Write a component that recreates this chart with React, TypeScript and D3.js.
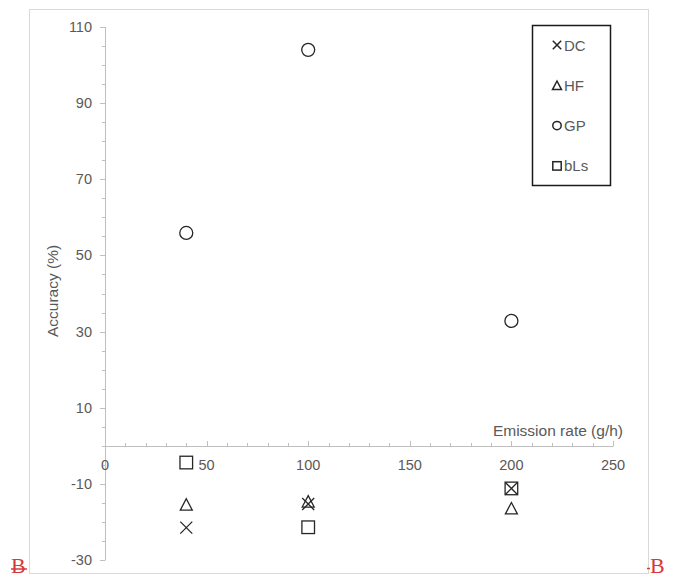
import React from 'react';
import { scaleLinear, range } from 'd3';

// emission rates (g/h) and accuracy (%) per method
const emission = [40, 100, 200];
const series = ['DC', 'HF', 'GP', 'bLs'];
const dcValues = [-21.5, -15.3, -11.2];
const hfValues = [-15.4, -14.6, -16.4];
const gpValues = [55.9, 104, 32.8];
const blsValues = [-4.4, -21.4, -11.2];
const yTicks = [110, 90, 70, 50, 30, 10, -10, -30];
const xTicks = [0, 50, 100, 150, 200, 250];

const W = 676;
const H = 575;
const axisColor = '#bfbfbf';
const textColor = '#595959';
const markColor = '#262626';
const font = '"Liberation Sans", Arial, sans-serif';

function marker(kind: string, cx: number, cy: number, s: number) {
  // s = half size
  if (kind === 'DC') {
    return <path d={`M${cx - s},${cy - s}L${cx + s},${cy + s}M${cx - s},${cy + s}L${cx + s},${cy - s}`} />;
  }
  if (kind === 'HF') {
    const h = s * 1.9;
    return <path d={`M${cx},${cy - h / 2}L${cx + s},${cy + h / 2}L${cx - s},${cy + h / 2}Z`} />;
  }
  if (kind === 'GP') {
    return <circle cx={cx} cy={cy} r={s} />;
  }
  return <rect x={cx - s} y={cy - s} width={s * 2} height={s * 2} />;
}

export default function App() {
  const x = scaleLinear().domain([0, 250]).range([105, 613]);
  const y = scaleLinear().domain([-30, 110]).range([560, 27]);
  const y0 = y(0);

  const data: Record<string, number[]> = {
    DC: dcValues,
    HF: hfValues,
    GP: gpValues,
    bLs: blsValues,
  };

  const xMinor = range(0, 251, 10);
  const yMinor = range(-30, 111, 5);

  return (
    <svg width={W} height={H} style={{ position: 'absolute', left: 0, top: 0, display: 'block' }}>
      <rect x={0} y={0} width={W} height={H} fill="#fff" />
      <rect x={29.5} y={9.5} width={619} height={564} fill="none" stroke="#d9d9d9" />

      {/* y axis */}
      <g stroke={axisColor} strokeWidth={1}>
        <line x1={105.5} x2={105.5} y1={y(110)} y2={y(-30)} />
        {yMinor.map((v) => (
          <line key={v} x1={yTicks.includes(v) ? 100 : 102} x2={105.5} y1={Math.round(y(v)) + 0.5} y2={Math.round(y(v)) + 0.5} />
        ))}
      </g>
      <g fill={textColor} fontFamily={font} fontSize={14.5} textAnchor="end">
        {yTicks.map((v) => (
          <text key={v} x={92} y={y(v) + 5}>{v}</text>
        ))}
      </g>

      {/* x axis */}
      <g stroke={axisColor} strokeWidth={1}>
        <line x1={x(0)} x2={x(250)} y1={Math.round(y0) + 0.5} y2={Math.round(y0) + 0.5} />
        {xMinor.map((v) => (
          <line key={v} x1={Math.round(x(v)) + 0.5} x2={Math.round(x(v)) + 0.5} y1={Math.round(y0) + 0.5} y2={Math.round(y0) - (v % 50 === 0 ? 5 : 3)} />
        ))}
      </g>
      <g fill={textColor} fontFamily={font} fontSize={14.5} textAnchor="middle">
        {xTicks.map((v) => (
          <text key={v} x={x(v)} y={y0 + 24}>{v}</text>
        ))}
      </g>

      {/* axis titles */}
      <text x={623} y={436} fill={textColor} fontFamily={font} fontSize={15.5} textAnchor="end">
        Emission rate (g/h)
      </text>
      <text
        transform={`translate(58,291) rotate(-90)`}
        fill={textColor}
        fontFamily={font}
        fontSize={15.5}
        textAnchor="middle"
      >
        Accuracy (%)
      </text>

      {/* points */}
      <g fill="none" stroke={markColor} strokeWidth={1.3}>
        {series.map((k) =>
          data[k].map((v, i) => (
            <g key={k + i}>{marker(k, x(emission[i]), y(v), k === 'GP' ? 6.5 : k === 'bLs' ? 6.3 : 6)}</g>
          ))
        )}
      </g>

      {/* legend */}
      <rect x={532.5} y={25.5} width={78} height={160} fill="#fff" stroke="#1a1a1a" strokeWidth={1.5} />
      {series.map((k, i) => {
        const cy = 45 + i * 40.3;
        return (
          <g key={k}>
            <g fill="none" stroke={markColor} strokeWidth={1.5}>
              {marker(k, 557, cy, k === 'HF' ? 4.5 : 4.2)}
            </g>
            <text x={564} y={cy + 5.5} fill={textColor} fontFamily={font} fontSize={15}>
              {k}
            </text>
          </g>
        );
      })}

      {/* stray red marks at bottom corners */}
      <g fill="#d7393b" fontFamily='"Liberation Serif", serif' fontSize={22}>
        <text x={11} y={573}>B</text>
        <text x={650} y={573}>B</text>
      </g>
      <line x1={11} x2={27} y1={569} y2={569} stroke="#d7393b" strokeWidth={1.5} />
      <line x1={647} x2={650} y1={568.5} y2={568.5} stroke="#d7393b" strokeWidth={1.5} />
    </svg>
  );
}
